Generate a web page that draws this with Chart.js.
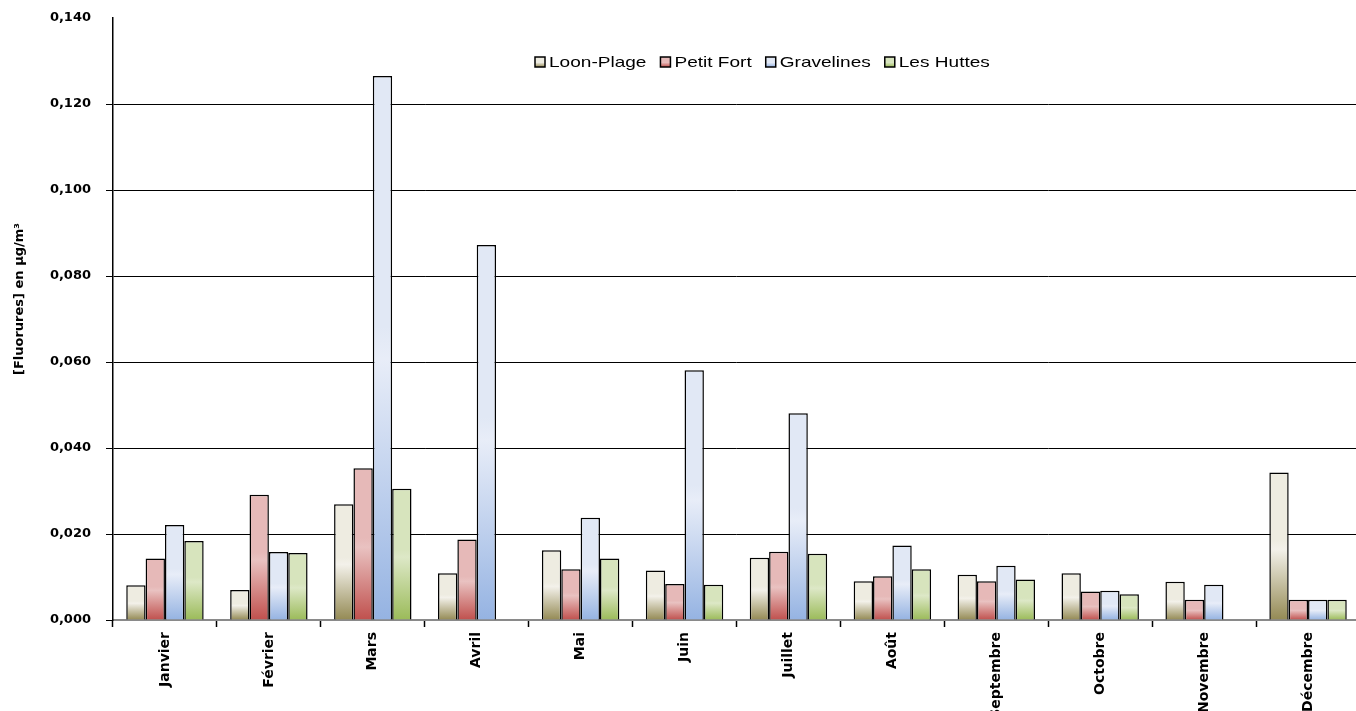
<!DOCTYPE html>
<html>
<head>
<meta charset="utf-8">
<script src="https://cdn.jsdelivr.net/npm/chart.js@4.4.1/dist/chart.umd.min.js"></script>
<style>
    html, body { margin: 0; padding: 0; background: #fff; overflow: hidden; }
    #wrap { width: 1362px; height: 760px; }
</style>
</head>
<body>
<div id="wrap"><canvas id="chart" width="1362" height="760"></canvas></div>
<script>
// Months on the x axis
const months = ['Janvier', 'Février', 'Mars', 'Avril', 'Mai', 'Juin', 'Juillet', 'Août',
    'Septembre', 'Octobre', 'Novembre', 'Décembre'];

// Monthly fluoride concentrations (µg/m³) per station
const loonPlage  = [0.0081, 0.0070, 0.0269, 0.0109, 0.0162, 0.0115, 0.0145, 0.0090, 0.0105, 0.0109, 0.0089, 0.0343];
const petitFort  = [0.0143, 0.0291, 0.0353, 0.0187, 0.0118, 0.0084, 0.0159, 0.0102, 0.0090, 0.0066, 0.0047, 0.0047];
const gravelines = [0.0221, 0.0158, 0.1265, 0.0872, 0.0238, 0.0581, 0.0481, 0.0173, 0.0126, 0.0068, 0.0082, 0.0047];
const lesHuttes  = [0.0184, 0.0156, 0.0305, null,   0.0143, 0.0082, 0.0154, 0.0118, 0.0094, 0.0060, null,   0.0047];

// Y axis ticks
const yTicks = [0, 0.02, 0.04, 0.06, 0.08, 0.10, 0.12, 0.14];

const yTitle = '[Fluorures] en µg/m³';

// light tint / darker base for each station
const palette = [
    { light: '#EEECE1', shine: '#F3F1EA', base: '#948A54' },
    { light: '#E6B9B8', shine: '#E9C2C1', base: '#C0504D' },
    { light: '#E1E8F5', shine: '#E8EDF8', base: '#95B3E2' },
    { light: '#D7E4BD', shine: '#DDE8C7', base: '#9BBB59' }
];

function makeGradient(c, top, bottom, p) {
    const g = c.createLinearGradient(0, top, 0, bottom);
    g.addColorStop(0, p.light);
    g.addColorStop(0.46, p.light);
    g.addColorStop(0.52, p.shine);
    g.addColorStop(1, p.base);
    return g;
}

// each bar gets its own vertical gradient, light on top, darker at the base
function barFill(p) {
    return function(ctx) {
        const chart = ctx.chart;
        if (ctx.type !== 'data' || !chart.chartArea || ctx.raw == null) return p.light;
        const y = chart.scales.y;
        const top = y.getPixelForValue(ctx.raw);
        const bottom = y.getPixelForValue(0);
        return makeGradient(chart.ctx, top, bottom, p);
    };
}

const seriesNames = ['Loon-Plage', 'Petit Fort', 'Gravelines', 'Les Huttes'];
const seriesData = [loonPlage, petitFort, gravelines, lesHuttes];

const datasets = seriesNames.map((name, i) => ({
    label: name,
    data: seriesData[i],
    backgroundColor: barFill(palette[i]),
    borderColor: '#000',
    borderWidth: 1.5,
    inflateAmount: 0,
    categoryPercentage: 0.745,
    barPercentage: 1.0
}));

// legend and rotated axis title drawn on top of the chart
const decorations = {
    id: 'decorations',
    afterDraw(chart) {
        const c = chart.ctx;
        c.save();

        // y axis title
        c.translate(20, 299);
        c.rotate(-Math.PI / 2);
        c.font = 'bold 13px "DejaVu Sans"';
        c.fillStyle = '#000';
        c.textAlign = 'center';
        c.textBaseline = 'middle';
        c.fillText(yTitle, 0, 0);
        c.restore();

        // legend
        c.save();
        c.font = '15px "Liberation Sans"';
        c.textBaseline = 'middle';
        const stretch = 1.27;
        let x = 535;
        const boxTop = 57, boxSize = 10;
        seriesNames.forEach((name, i) => {
            c.fillStyle = makeGradient(c, boxTop, boxTop + boxSize, palette[i]);
            c.fillRect(x, boxTop, boxSize, boxSize);
            c.lineWidth = 1.5;
            c.strokeStyle = '#000';
            c.strokeRect(x, boxTop, boxSize, boxSize);
            const tx = x + boxSize + 4;
            const w = c.measureText(name).width * stretch;
            c.save();
            c.translate(tx, boxTop + boxSize / 2 + 1);
            c.scale(stretch, 1);
            c.fillStyle = '#000';
            c.fillText(name, 0, 0);
            c.restore();
            x = tx + w + 14;
        });
        c.restore();
    }
};

new Chart(document.getElementById('chart').getContext('2d'), {
    type: 'bar',
    data: {
        labels: months,
        datasets: datasets
    },
    options: {
        responsive: false,
        animation: false,
        devicePixelRatio: 1,
        datasets: {
            bar: { categoryPercentage: 0.745, barPercentage: 1.0 }
        },
        layout: {
            padding: { left: 0, right: 2, top: 18, bottom: 0 }
        },
        plugins: {
            legend: { display: false },
            tooltip: { enabled: false }
        },
        scales: {
            x: {
                afterFit: function(scale) { scale.height = 140; },
                grid: {
                    offset: true,
                    drawOnChartArea: false,
                    drawTicks: true,
                    tickLength: 7,
                    tickColor: '#000',
                    tickWidth: 1.5
                },
                border: {
                    color: '#8a8a8a',
                    width: 2
                },
                ticks: {
                    minRotation: 90,
                    maxRotation: 90,
                    autoSkip: false,
                    padding: 5,
                    color: '#000',
                    font: { family: '"DejaVu Sans"', size: 14, weight: 'bold' }
                }
            },
            y: {
                min: 0,
                max: 0.14,
                afterFit: function(scale) {
                    scale.width = 113;
                    // keep the top label from pushing the plot down
                    scale.paddingTop = 8;
                    scale.paddingBottom = 8;
                },
                afterBuildTicks: function(scale) {
                    scale.ticks = yTicks.map(v => ({ value: v }));
                },
                grid: {
                    color: function(ctx) {
                        const v = ctx.tick ? ctx.tick.value : 0;
                        return (v === 0 || v === 0.14) ? 'rgba(0,0,0,0)' : '#000';
                    },
                    tickColor: function(ctx) {
                        const v = ctx.tick ? ctx.tick.value : 0;
                        return v === 0.14 ? 'rgba(0,0,0,0)' : '#000';
                    },
                    lineWidth: 1,
                    drawTicks: true,
                    tickLength: 7
                },
                border: {
                    color: '#000',
                    width: 1.5
                },
                ticks: {
                    padding: 15,
                    color: '#000',
                    font: { family: '"DejaVu Sans"', size: 13, weight: 'bold' },
                    callback: function(v) { return v.toFixed(3).replace('.', ','); }
                }
            }
        }
    },
    plugins: [decorations]
});
</script>
</body>
</html>
